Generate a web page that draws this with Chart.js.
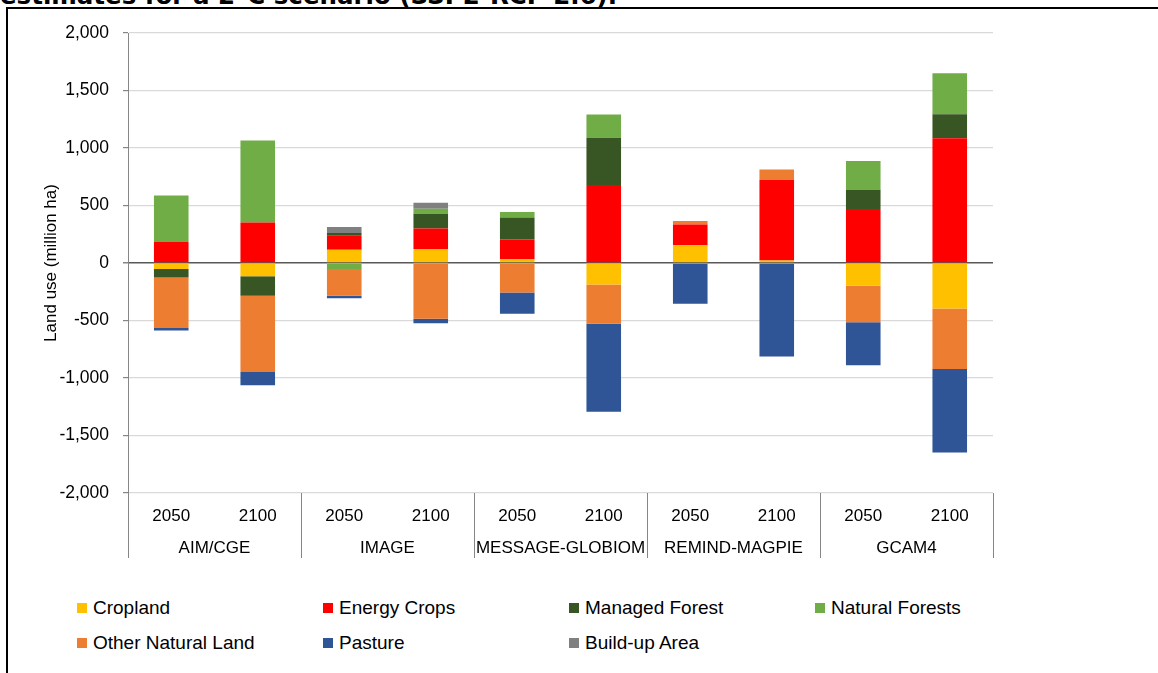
<!DOCTYPE html>
<html>
<head>
<meta charset="utf-8">
<script src="https://cdn.jsdelivr.net/npm/chart.js@4.4.1/dist/chart.umd.min.js"></script>
<style>
  html, body { margin:0; padding:0; background:#fff; }
  body { width:1158px; height:673px; overflow:hidden; position:relative; font-family:"Liberation Sans", Arial, sans-serif; }
  #title { position:absolute; left:0; top:-16px; font-family:"DejaVu Sans", Verdana, sans-serif; font-weight:bold; font-size:24.5px; line-height:24px; white-space:nowrap; color:#000; }
  #frame { position:absolute; left:6px; top:7px; width:1200px; height:700px; border-left:2px solid #000; border-top:2px solid #000; background:#fff; }
  #c { position:absolute; left:0; top:0; }
  .lg { position:absolute; display:flex; align-items:center; font-size:19px; color:#000; white-space:nowrap; height:22px; }
  .lg .sw { width:10px; height:10px; margin-right:6px; }
</style>
</head>
<body>
<div id="title">estimates for a 2°C scenario (SSP2-RCP 2.6).</div>
<div id="frame"></div>
<canvas id="c" width="1158" height="580"></canvas>
<div id="legend"></div>
<script>
// ---- data ----
const years = ['2050','2100','2050','2100','2050','2100','2050','2100','2050','2100'];
const models = ['AIM/CGE','IMAGE','MESSAGE-GLOBIOM','REMIND-MAGPIE','GCAM4'];
const seriesNames = ['Cropland','Energy Crops','Managed Forest','Natural Forests','Other Natural Land','Pasture','Build-up Area'];
const cropland         = [ -52, -116,  116,  122,   35, -186,  154,   22, -197, -395];
const energyCrops      = [ 183,  353,  122,  179,  170,  678,  180,  699,  470, 1084];
const managedForest    = [ -73, -168,   23,  128,  191,  411,    0,    0,  165,  209];
const naturalForests   = [ 405,  713,  -52,   43,   47,  203,    0,    0,  252,  357];
const otherNaturalLand = [-440, -664, -232, -485, -256, -342,   32,   92, -319, -527];
const pasture          = [ -21, -116,  -23,  -38, -185, -765, -354, -812, -374, -725];
const buildUpArea      = [   0,    0,   52,   52,    0,    0,    0,    0,    0,    0];
const yTicks = [-2000,-1500,-1000,-500,0,500,1000,1500,2000];

// ---- styles ----
const seriesColors = ['#FFC000','#FF0000','#375623','#70AD47','#ED7D31','#2F5597','#808080'];
const seriesData = [cropland, energyCrops, managedForest, naturalForests, otherNaturalLand, pasture, buildUpArea];
const FONT = '"Liberation Sans", Arial, sans-serif';

function fmt(v){
  const s = Math.abs(v).toString().replace(/\B(?=(\d{3})+(?!\d))/g, ',');
  return (v < 0 ? '-' : '') + s;
}

const groupPlugin = {
  id: 'groups',
  afterDraw(chart){
    const ctx = chart.ctx, xs = chart.scales.x, ca = chart.chartArea;
    ctx.save();
    ctx.strokeStyle = '#868686';
    ctx.lineWidth = 1;
    const bounds = [ca.left];
    for (let g = 1; g < models.length; g++) {
      bounds.push((xs.getPixelForValue(2*g-1) + xs.getPixelForValue(2*g)) / 2);
    }
    bounds.push(ca.right);
    bounds.forEach(b => {
      const x = Math.round(b) + 0.5;
      ctx.beginPath(); ctx.moveTo(x, ca.bottom); ctx.lineTo(x, ca.bottom + 65); ctx.stroke();
    });
    ctx.fillStyle = '#000';
    ctx.font = '17px ' + FONT;
    ctx.textAlign = 'center';
    ctx.textBaseline = 'middle';
    models.forEach((m, g) => {
      const cx = (xs.getPixelForValue(2*g) + xs.getPixelForValue(2*g+1)) / 2;
      ctx.fillText(m, cx, ca.bottom + 55);
    });
    ctx.restore();
  }
};

new Chart(document.getElementById('c'), {
  type: 'bar',
  data: {
    labels: years,
    datasets: seriesNames.map((n, i) => ({
      label: n,
      data: seriesData[i],
      backgroundColor: seriesColors[i],
      borderWidth: 0,
      barPercentage: 0.4,
      categoryPercentage: 1.0
    }))
  },
  options: {
    responsive: false,
    animation: false,
    devicePixelRatio: 1,
    layout: { padding: { top: 33, right: 165, bottom: 17, left: 0 } },
    plugins: { legend: { display: false }, tooltip: { enabled: false } },
    scales: {
      x: {
        stacked: true,
        offset: true,
        grid: { display: false },
        border: { display: false },
        ticks: { font: { size: 17, family: FONT }, color: '#000', padding: 5, maxRotation: 0, autoSkip: false },
        afterFit: s => { s.height = 70; }
      },
      y: {
        stacked: true,
        min: -2000, max: 2000,
        afterBuildTicks: s => { s.ticks = yTicks.map(v => ({ value: v })); },
        ticks: { font: { size: 17.5, family: FONT }, color: '#000', padding: 14, callback: v => fmt(v) },
        grid: {
          color: c => (c.tick && c.tick.value === 0) ? '#595959' : '#d9d9d9',
          lineWidth: c => (c.tick && c.tick.value === 0) ? 1.5 : 1.2,
          tickColor: '#868686',
          tickLength: 5
        },
        border: { color: '#868686', width: 1 },
        title: { display: true, text: 'Land use (million ha)', font: { size: 17, family: FONT }, color: '#000', padding: { top: 41, bottom: 0 } },
        afterFit: s => { s.width = 128; }
      }
    }
  },
  plugins: [groupPlugin]
});

// ---- legend (HTML, real text) ----
const lg = document.getElementById('legend');
seriesNames.forEach((n, i) => {
  const row = Math.floor(i / 4), col = i % 4;
  const d = document.createElement('div');
  d.className = 'lg';
  d.style.left = (77 + col * 246) + 'px';
  d.style.top = (597 + row * 35) + 'px';
  const sw = document.createElement('span');
  sw.className = 'sw';
  sw.style.background = seriesColors[i];
  const t = document.createElement('span');
  t.textContent = n;
  d.appendChild(sw); d.appendChild(t);
  lg.appendChild(d);
});
</script>
</body>
</html>
